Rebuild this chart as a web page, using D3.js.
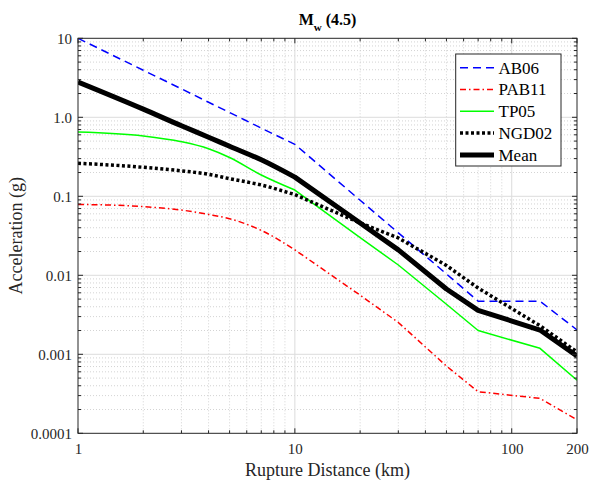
<!DOCTYPE html>
<html><head><meta charset="utf-8">
<script src="https://cdn.jsdelivr.net/npm/d3@7"></script>
<style>body{margin:0;background:#fff}svg{display:block}svg text{font-family:"Liberation Serif","DejaVu Serif",serif !important;}</style>
</head><body><svg id="c" width="589" height="485"></svg>
<script>
const distances = [1, 2, 3, 4, 5, 7, 10, 20, 30, 50, 70, 135, 200];
const ab06  = [10, 3.94, 2.29, 1.55, 1.15, 0.73, 0.455, 0.089, 0.0345, 0.0104, 0.0047, 0.0047, 0.00204];
const pab11 = [0.079, 0.074, 0.067, 0.059, 0.052, 0.037, 0.021, 0.0056, 0.00253, 0.00071, 0.000336, 0.000277, 0.000148];
const tp05  = [0.65, 0.58, 0.49, 0.40, 0.31, 0.186, 0.12, 0.030, 0.0135, 0.0043, 0.0020, 0.00119, 0.00047];
const ngd02 = [0.262, 0.233, 0.21, 0.19, 0.167, 0.139, 0.105, 0.046, 0.0297, 0.0133, 0.0069, 0.0023, 0.00107];
const meanV = [2.8, 1.27, 0.78, 0.56, 0.43, 0.29, 0.175, 0.046, 0.021, 0.0067, 0.0036, 0.00203, 0.00095];
const seriesNames = ["AB06", "PAB11", "TP05", "NGD02", "Mean"];
const xTicks = [1, 10, 100, 200];
const yTicks = [0.0001, 0.001, 0.01, 0.1, 1, 10];
const yTickLabels = ["0.0001", "0.001", "0.01", "0.1", "1.0", "10"];

const styles = [
  {color:"#0000ff", w:1.5, dash:"8,5"},
  {color:"#ff0000", w:1.5, dash:"6,3,1.5,3"},
  {color:"#00ff00", w:1.5, dash:null},
  {color:"#000000", w:3.5, dash:"3,2.5"},
  {color:"#000000", w:5, dash:null}
];
const allData = [ab06, pab11, tp05, ngd02, meanV];

const L=78, R=577, T=38.3, B=433.3;
const x = d3.scaleLog().domain([1,200]).range([L,R]);
const y = d3.scaleLog().domain([1e-4,10]).range([B,T]);
const svg = d3.select("#c");

// grid
const g = svg.append("g");
const xMinor = [], yMinor = [];
[1,10,100].forEach(b=>{for(let k=2;k<=9;k++){const v=b*k; if(v<200) xMinor.push(v);}});
[1e-4,1e-3,1e-2,1e-1,1].forEach(b=>{for(let k=2;k<=9;k++) yMinor.push(b*k);});
g.selectAll(".xm").data(xMinor).join("line").attr("x1",d=>x(d)).attr("x2",d=>x(d)).attr("y1",T).attr("y2",B)
  .attr("stroke","#c8c8c8").attr("stroke-width",0.8).attr("stroke-dasharray","1,2");
g.selectAll(".ym").data(yMinor).join("line").attr("y1",d=>y(d)).attr("y2",d=>y(d)).attr("x1",L).attr("x2",R)
  .attr("stroke","#c8c8c8").attr("stroke-width",0.8).attr("stroke-dasharray","1,2");
g.selectAll(".xM").data([10,100]).join("line").attr("x1",d=>x(d)).attr("x2",d=>x(d)).attr("y1",T).attr("y2",B)
  .attr("stroke","#dcdcdc").attr("stroke-width",1);
g.selectAll(".yM").data([0.001,0.01,0.1,1]).join("line").attr("y1",d=>y(d)).attr("y2",d=>y(d)).attr("x1",L).attr("x2",R)
  .attr("stroke","#dcdcdc").attr("stroke-width",1);

// lines: smooth (monotone) up to 10 km, straight segments beyond
const split = distances.indexOf(10);
const lineNear = d3.line().curve(d3.curveMonotoneX).x(d=>x(d[0])).y(d=>y(d[1]));
const lineFar = d3.line().x(d=>x(d[0])).y(d=>y(d[1]));
svg.append("clipPath").attr("id","cp").append("rect").attr("x",L).attr("y",T).attr("width",R-L).attr("height",B-T);
const lg = svg.append("g").attr("clip-path","url(#cp)");
[2,1,0,3,4].forEach(i=>{
  const s=styles[i];
  const pts = distances.map((d,j)=>[d, allData[i][j]]);
  const dStr = lineNear(pts.slice(0,split+1)) + lineFar(pts.slice(split)).replace(/^M/,"L");
  const p=lg.append("path").attr("d",dStr).attr("fill","none").attr("stroke",s.color).attr("stroke-width",s.w).attr("stroke-linejoin","round");
  if(s.dash) p.attr("stroke-dasharray",s.dash);
});

// axes
const ax = svg.append("g");
const tickColor="#262626";
const xAxisB = d3.axisBottom(x).tickValues(xTicks).tickFormat(d3.format("d")).tickSize(0).tickPadding(10);
const xaG = ax.append("g").attr("transform",`translate(0,${B})`).call(xAxisB);
xaG.select(".domain").remove();
xaG.selectAll("text").attr("font-size",15).attr("fill",tickColor);
const yAxisL = d3.axisLeft(y).tickValues(yTicks).tickFormat((d,i)=>yTickLabels[i]).tickSize(0).tickPadding(6);
const yaG = ax.append("g").attr("transform",`translate(${L},0)`).call(yAxisL);
yaG.select(".domain").remove();
yaG.selectAll("text").attr("font-size",15).attr("fill",tickColor);
xaG.attr("font-size",15); yaG.attr("font-size",15);

// ticks inward on all sides
const tk = ax.append("g").attr("stroke",tickColor).attr("stroke-width",1);
xTicks.forEach(v=>{tk.append("line").attr("x1",x(v)).attr("x2",x(v)).attr("y1",B).attr("y2",B-5);
  tk.append("line").attr("x1",x(v)).attr("x2",x(v)).attr("y1",T).attr("y2",T+5);});
xMinor.forEach(v=>{tk.append("line").attr("x1",x(v)).attr("x2",x(v)).attr("y1",B).attr("y2",B-3);
  tk.append("line").attr("x1",x(v)).attr("x2",x(v)).attr("y1",T).attr("y2",T+3);});
yTicks.forEach(v=>{tk.append("line").attr("y1",y(v)).attr("y2",y(v)).attr("x1",L).attr("x2",L+5);
  tk.append("line").attr("y1",y(v)).attr("y2",y(v)).attr("x1",R).attr("x2",R-5);});
yMinor.forEach(v=>{tk.append("line").attr("y1",y(v)).attr("y2",y(v)).attr("x1",L).attr("x2",L+3);
  tk.append("line").attr("y1",y(v)).attr("y2",y(v)).attr("x1",R).attr("x2",R-3);});
ax.append("rect").attr("x",L).attr("y",T).attr("width",R-L).attr("height",B-T).attr("fill","none").attr("stroke",tickColor).attr("stroke-width",1);

// labels
svg.append("text").attr("x",(L+R)/2).attr("y",476).attr("text-anchor","middle").attr("font-size",18).attr("fill",tickColor).text("Rupture Distance (km)");
svg.append("text").attr("transform",`translate(22,${(T+B)/2}) rotate(-90)`).attr("text-anchor","middle").attr("font-size",18).attr("fill",tickColor).text("Acceleration (g)");
const title = svg.append("text").attr("x",(L+R)/2).attr("y",25).attr("text-anchor","middle").attr("font-size",16).attr("font-weight","bold").attr("fill","#000");
title.append("tspan").text("M");
title.append("tspan").attr("font-size",11).attr("dy",6).text("w");
title.append("tspan").attr("dy",-6).text(" (4.5)");

// legend
const leg = svg.append("g");
leg.append("rect").attr("x",455.7).attr("y",54).attr("width",105.3).attr("height",112).attr("fill","#fff").attr("stroke","#262626").attr("stroke-width",1);
seriesNames.forEach((n,i)=>{
  const yy = 67.7 + i*21.8, s=styles[i];
  const l=leg.append("line").attr("x1",460).attr("x2",494).attr("y1",yy).attr("y2",yy).attr("stroke",s.color).attr("stroke-width",s.w);
  if(s.dash) l.attr("stroke-dasharray",s.dash);
  leg.append("text").attr("x",498.5).attr("y",yy+5.8).attr("font-size",17).attr("fill","#000").text(n);
});
</script></body></html>
